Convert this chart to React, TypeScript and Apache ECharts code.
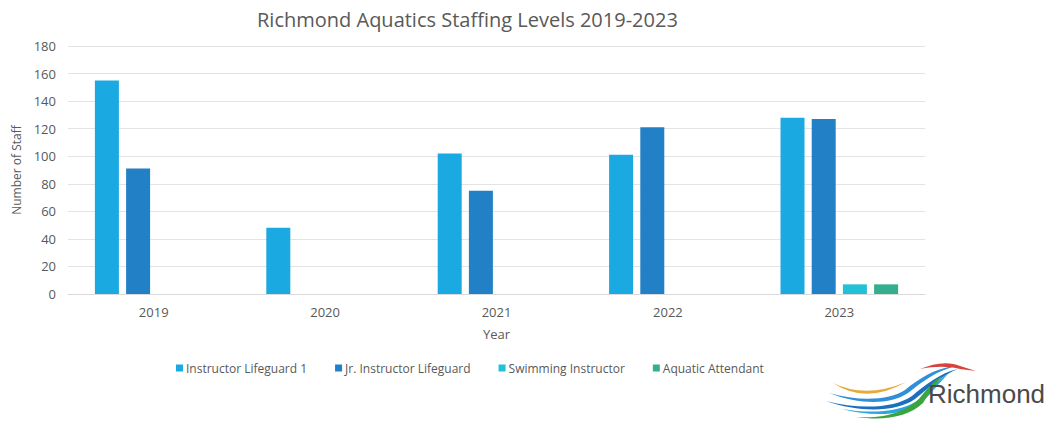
import React, { useEffect, useRef } from "react";
import * as echarts from "echarts";

const years = ["2019", "2020", "2021", "2022", "2023"];
const instructorLifeguard1 = [155, 48, 102, 101, 128];
const jrInstructorLifeguard = [91, 0, 75, 121, 127];
const swimmingInstructor = [0, 0, 0, 0, 7];
const aquaticAttendant = [0, 0, 0, 0, 7];
const seriesNames = [
  "Instructor Lifeguard 1",
  "Jr. Instructor Lifeguard",
  "Swimming Instructor",
  "Aquatic Attendant",
];
const seriesColors = ["#1AA9E1", "#2280C6", "#22C1D6", "#34AF8D"];

const logoShapes: { name: string; d: string; color: string }[] = [
  { name: "rOrange", d: "M833,383 Q866,399 906,382 Q866,405 833,383 Z", color: "#E8A93A" },
  { name: "rBlue1", d: "M829,393 C860,402 890,400 905,390 C920,378 935,368 956,366 C936,371 922,382 908,393 C890,405 860,405 829,393 Z", color: "#2F8FD8" },
  { name: "rBlue2", d: "M826,401 C860,410 895,408 912,396 C925,385 940,373 958,369 C942,375 929,388 915,399 C897,412 860,413 826,401 Z", color: "#1C6FC0" },
  { name: "rBlue3", d: "M842,409 C870,414 900,412 917,401 C928,391 937,380 948,374 C940,382 932,393 921,403 C903,416 872,417 842,409 Z", color: "#2AA6DF" },
  { name: "rGreen", d: "M856,417 C888,419 905,411 919,399 C927,389 933,381 942,376 C936,384 929,393 923,403 C908,417 885,421 856,417 Z", color: "#3BA43E" },
  { name: "rRed", d: "M920,369 C934,363 949,361 960,366 L976,371 L960,369 C949,366 934,366 920,369 Z", color: "#D9423A" },
];

export default function App() {
  const ref = useRef<HTMLDivElement>(null);
  useEffect(() => {
    if (!ref.current) return;
    document.body.style.margin = "0";
    logoShapes.forEach((s) => {
      echarts.graphic.registerShape(s.name, echarts.graphic.extendPath(s.d, {}) as any);
    });
    const chart = echarts.init(ref.current, undefined, { renderer: "svg" });
    const textColor = "#595959";
    const font = "'Open Sans', sans-serif";
    const data = [instructorLifeguard1, jrInstructorLifeguard, swimmingInstructor, aquaticAttendant];
    chart.setOption({
      animation: false,
      backgroundColor: "#ffffff",
      textStyle: { fontFamily: font },
      title: {
        text: "Richmond Aquatics Staffing Levels 2019-2023",
        left: 252,
        top: 4,
        textStyle: { fontSize: 20, fontWeight: "normal", color: textColor, fontFamily: font },
      },
      legend: {
        data: seriesNames,
        left: 171,
        top: 357,
        itemWidth: 7,
        itemHeight: 7,
        itemGap: 28,
        icon: "rect",
        textStyle: { fontSize: 12, color: textColor, fontFamily: font, padding: [0, 0, 0, -2] },
      },
      grid: { left: 68, right: 127, top: 46, bottom: 131 },
      xAxis: {
        type: "category",
        data: years,
        name: "Year",
        nameLocation: "middle",
        nameGap: 33,
        nameTextStyle: { fontSize: 13, color: textColor },
        axisLine: { lineStyle: { color: "#d9d9d9" } },
        axisTick: { show: false },
        axisLabel: { fontSize: 13, color: textColor, margin: 11 },
      },
      yAxis: {
        type: "value",
        min: 0,
        max: 180,
        interval: 20,
        name: "Number of Staff",
        nameLocation: "middle",
        nameGap: 44,
        nameTextStyle: { fontSize: 12, color: textColor },
        axisLine: { show: false },
        axisTick: { show: false },
        axisLabel: { fontSize: 13, color: textColor, margin: 12 },
        splitLine: { lineStyle: { color: "#e3e3e3" } },
      },
      series: seriesNames.map((name, i) => ({
        name,
        type: "bar",
        data: data[i],
        barWidth: 24,
        barGap: "30%",
        itemStyle: { color: seriesColors[i] },
      })),
      graphic: [
        ...logoShapes.map((s) => ({
          type: s.name,
          x: 0,
          y: 0,
          style: { fill: s.color },
        })),
        {
          type: "text",
          left: 928,
          top: 381,
          style: {
            text: "Richmond",
            fontSize: 26,
            fontFamily: "'Liberation Sans Narrow', 'Liberation Sans', Arial, sans-serif",
            fill: "#4a4a4a",
          },
        },
      ],
    });
    return () => chart.dispose();
  }, []);
  return <div ref={ref} style={{ width: 1052, height: 425 }} />;
}
